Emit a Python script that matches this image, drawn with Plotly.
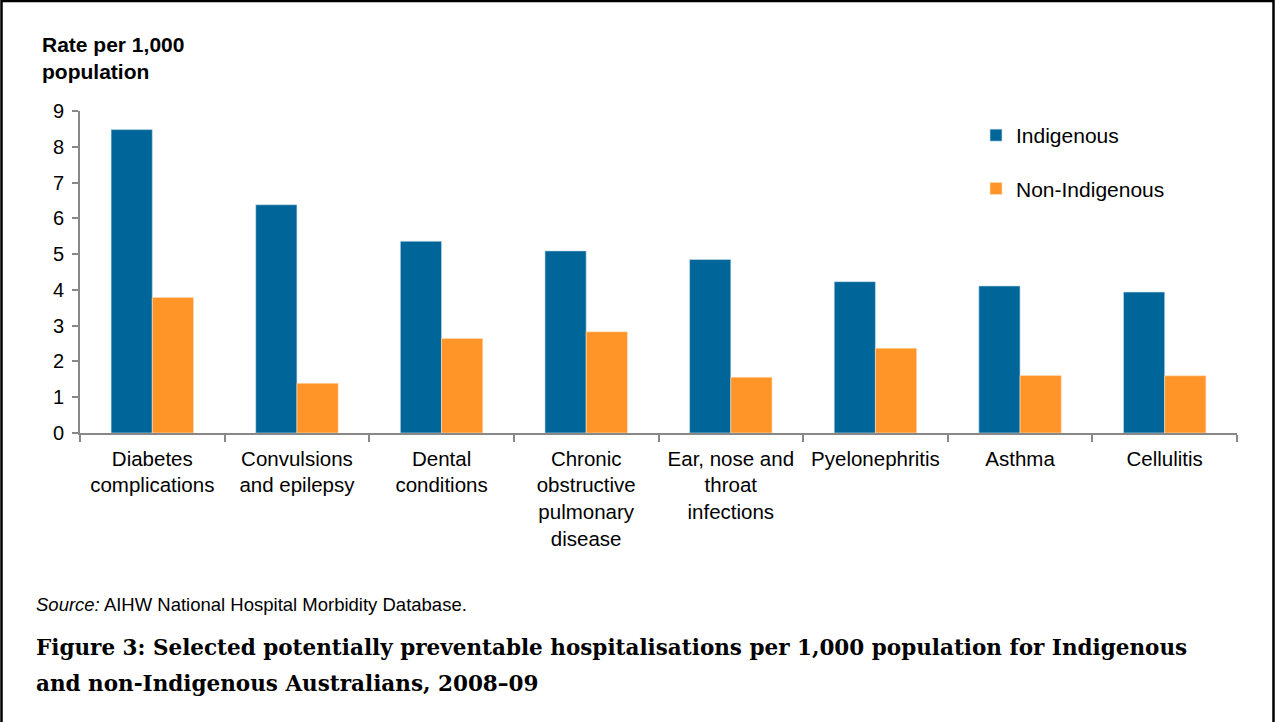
import plotly.graph_objects as go

categories = ["Diabetes<br>complications", "Convulsions<br>and epilepsy", "Dental<br>conditions",
              "Chronic<br>obstructive<br>pulmonary<br>disease", "Ear, nose and<br>throat<br>infections",
              "Pyelonephritis", "Asthma", "Cellulitis"]
indigenous = [8.48, 6.38, 5.36, 5.09, 4.85, 4.23, 4.11, 3.94]
non_indigenous = [3.79, 1.39, 2.64, 2.83, 1.56, 2.37, 1.61, 1.60]
y_ticks = [0, 1, 2, 3, 4, 5, 6, 7, 8, 9]

W, H = 1275, 722
ML, MR, MT, MB = 80, 38, 111, 289
PW, PH = W - ML - MR, H - MT - MB

def px(x):
    return (x - ML) / PW

def py(y):
    return (H - MB - y) / PH

FONT = "Liberation Sans, Arial, sans-serif"

fig = go.Figure()
fig.add_trace(go.Bar(x=categories, y=indigenous, name="Indigenous", legendgroup="a",
                     marker=dict(color="#006699", line=dict(color="#cfe3ee", width=0.6))))
fig.add_trace(go.Bar(x=categories, y=non_indigenous, name="Non-Indigenous", legendgroup="b",
                     marker=dict(color="#FF9428", line=dict(color="#ffe0c0", width=0.6))))

fig.update_layout(
    width=W, height=H,
    margin=dict(l=ML, r=MR, t=MT, b=MB),
    paper_bgcolor="white", plot_bgcolor="white",
    barmode="group", bargap=0.43, bargroupgap=0,
    font=dict(family=FONT, size=20, color="black"),
    showlegend=True,
    legend=dict(x=px(976), y=py(115), xanchor="left", yanchor="top",
                font=dict(family=FONT, size=21, color="black"),
                tracegroupgap=23, bgcolor="rgba(0,0,0,0)", itemwidth=30),
    xaxis=dict(showline=True, linecolor="#888888", linewidth=2, ticks="outside",
               tickson="boundaries", ticklen=7, tickcolor="#888888", tickwidth=2,
               ticklabelstandoff=6,
               tickfont=dict(family=FONT, size=20.5, color="black"), showgrid=False,
               zeroline=False),
    yaxis=dict(range=[0, 9], tickvals=y_ticks, showline=True, linecolor="#888888", linewidth=2,
               ticks="outside", ticklen=6, tickcolor="#888888", tickwidth=2,
               ticklabelstandoff=4,
               tickfont=dict(family=FONT, size=20, color="black"), showgrid=False,
               zeroline=False),
)

annotations = [
    dict(text="<b>Rate per 1,000<br>population</b>", x=px(40), y=py(31), xanchor="left", yanchor="top",
         align="left", font=dict(family=FONT, size=21, color="black")),
    dict(text="<i>Source:</i> AIHW National Hospital Morbidity Database.", x=px(34), y=py(604),
         xanchor="left", yanchor="middle", font=dict(family=FONT, size=18.5, color="black")),
    dict(text="<b>Figure 3: Selected potentially preventable hospitalisations per 1,000 population for Indigenous</b>",
         x=px(34), y=py(647), xanchor="left", yanchor="middle", align="left",
         font=dict(family="DejaVu Serif, serif", size=21.5, color="black")),
    dict(text="<b>and non-Indigenous Australians, 2008\u201309</b>",
         x=px(34), y=py(683), xanchor="left", yanchor="middle", align="left",
         font=dict(family="DejaVu Serif, serif", size=21.5, color="black")),
]
for a in annotations:
    a.update(xref="paper", yref="paper", showarrow=False)
fig.update_layout(annotations=annotations)

fig.add_shape(type="rect", xref="paper", yref="paper",
              x0=px(1.5), x1=px(1273.5), y0=py(730), y1=py(1),
              line=dict(color="black", width=2.5), fillcolor="rgba(0,0,0,0)")

fig.write_html("out.html")
